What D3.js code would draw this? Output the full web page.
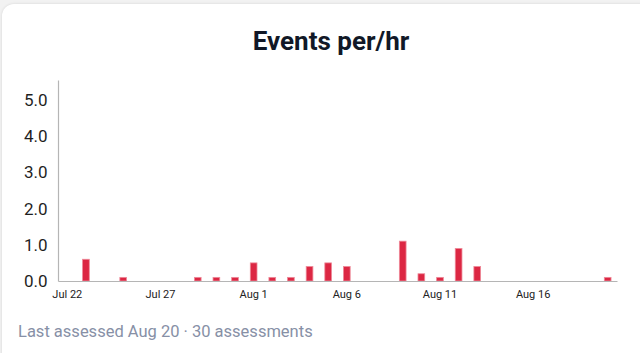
<!DOCTYPE html>
<html>
<head>
<meta charset="utf-8">
<script src="https://cdn.jsdelivr.net/npm/d3@7"></script>
<style>
  html, body { margin: 0; padding: 0; background: #f2f2f2; }
  body { width: 640px; height: 353px; overflow: hidden; font-family: Roboto, "Noto Sans", sans-serif; }
  .card {
    position: absolute; left: 2px; top: 4px; width: 660px; height: 380px;
    background: #fff; border-radius: 12px;
    box-shadow: 0 0 3px rgba(0,0,0,0.12);
  }
  svg { position: absolute; left: 0; top: 0; }
</style>
</head>
<body>
<div class="card"></div>
<script>
const width = 640
const height = 353

// one entry per day, Jul 22 .. Aug 20
const days = [
  'Jul 22', 'Jul 23', 'Jul 24', 'Jul 25', 'Jul 26', 'Jul 27', 'Jul 28', 'Jul 29', 'Jul 30', 'Jul 31',
  'Aug 1', 'Aug 2', 'Aug 3', 'Aug 4', 'Aug 5', 'Aug 6', 'Aug 7', 'Aug 8', 'Aug 9', 'Aug 10',
  'Aug 11', 'Aug 12', 'Aug 13', 'Aug 14', 'Aug 15', 'Aug 16', 'Aug 17', 'Aug 18', 'Aug 19', 'Aug 20'
]
const events = [
  0, 0.6, 0, 0.1, 0, 0, 0, 0.1, 0.1, 0.1,
  0.5, 0.1, 0.1, 0.4, 0.5, 0.4, 0, 0, 1.1, 0.2,
  0.1, 0.9, 0.4, 0, 0, 0, 0, 0, 0, 0.1
]
const xTicks = ['Jul 22', 'Jul 27', 'Aug 1', 'Aug 6', 'Aug 11', 'Aug 16']
const yTicks = [0, 1, 2, 3, 4, 5]

const margin = { top: 80, right: 23, bottom: 72, left: 58 }
const chartWidth = width - margin.left - margin.right
const chartHeight = height - margin.top - margin.bottom

const svg = d3.select('body')
  .append('svg')
  .attr('width', width)
  .attr('height', height)

svg.append('text')
  .attr('x', 331)
  .attr('y', 50)
  .attr('text-anchor', 'middle')
  .attr('font-size', 26)
  .attr('font-weight', 700)
  .attr('fill', '#111827')
  .text('Events per/hr')

const g = svg.append('g').attr('transform', `translate(${margin.left}, ${margin.top})`)

const x = d3.scaleBand().domain(days).range([0, chartWidth]).paddingInner(0.64).paddingOuter(0.32)
const y = d3.scaleLinear().domain([0, 5.55]).range([chartHeight, 0])

// bars
g.selectAll('rect.bar')
  .data(days.map((d, i) => ({ day: d, value: events[i] })).filter((d) => d.value > 0))
  .enter()
  .append('rect')
  .attr('class', 'bar')
  .attr('x', (d) => x(d.day))
  .attr('y', (d) => y(d.value))
  .attr('width', x.bandwidth())
  .attr('height', (d) => chartHeight - y(d.value))
  .attr('fill', '#dc2743')
  .attr('stroke', '#ee8a99')
  .attr('stroke-width', 0.8)

// axes
const yAxis = g.append('g')
  .call(d3.axisLeft(y).tickValues(yTicks).tickFormat(d3.format('.1f')).tickSize(0).tickPadding(22))
yAxis.select('.domain').attr('stroke', '#b5b5b5').attr('stroke-width', 1.2)
yAxis.selectAll('text')
  .attr('font-family', 'Roboto, sans-serif')
  .attr('font-size', 17)
  .attr('fill', '#1f1f1f')
  .attr('text-anchor', 'start')
  .attr('x', -34)

const xAxis = g.append('g')
  .attr('transform', `translate(0, ${chartHeight})`)
  .call(d3.axisBottom(x).tickValues(xTicks).tickSize(0).tickPadding(9))
xAxis.select('.domain').attr('stroke', '#b5b5b5').attr('stroke-width', 1.2)
xAxis.selectAll('text')
  .attr('font-family', 'Roboto, sans-serif')
  .attr('font-size', 11)
  .attr('fill', '#222')

svg.append('text')
  .attr('x', 18)
  .attr('y', 337)
  .attr('font-size', 16.5)
  .attr('fill', '#8790a6')
  .text('Last assessed Aug 20 · 30 assessments')
</script>
</body>
</html>
